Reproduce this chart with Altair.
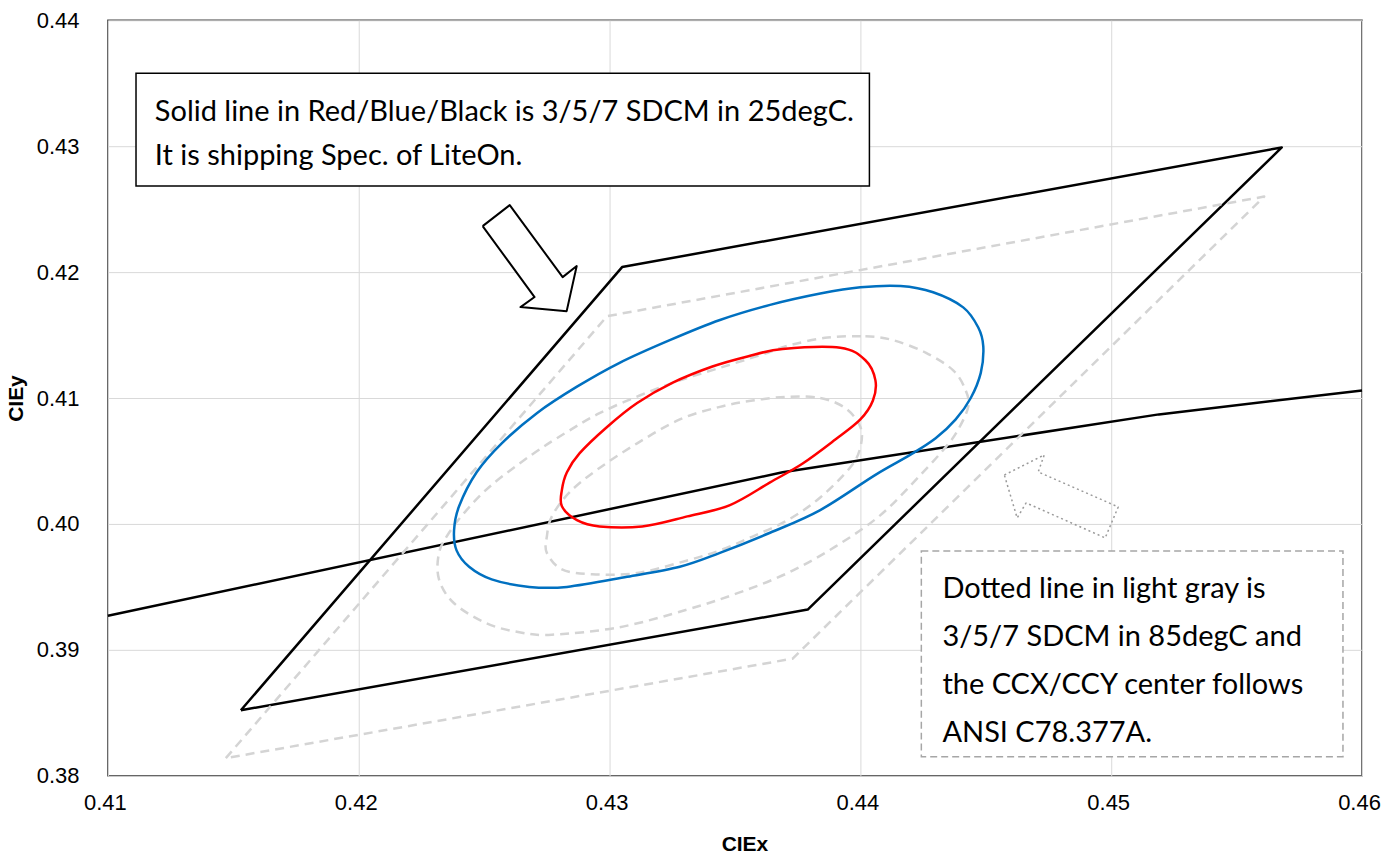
import altair as alt
import pandas as pd

# ---- 25 degC, solid lines (LiteOn shipping spec) ----
# 3-step SDCM (red)
red_x = [0.4369, 0.4392, 0.4402, 0.4406, 0.4405, 0.4400, 0.4390, 0.4377, 0.4364, 0.4348, 0.4331, 0.4313,
         0.4296, 0.4287, 0.4281, 0.4281, 0.4283, 0.4288, 0.4299, 0.4311, 0.4325, 0.4341, 0.4355]
red_y = [0.4139, 0.4140, 0.4130, 0.4114, 0.4098, 0.4083, 0.4067, 0.4048, 0.4033, 0.4015, 0.4006, 0.3998,
         0.3998, 0.4003, 0.4014, 0.4027, 0.4041, 0.4056, 0.4077, 0.4096, 0.4112, 0.4125, 0.4133]

# 5-step SDCM (blue)
blue_x = [0.4344, 0.4364, 0.4384, 0.4400, 0.4416, 0.4429, 0.4441, 0.4447, 0.4449, 0.4448, 0.4444, 0.4438,
          0.4430, 0.4420, 0.4406, 0.4384, 0.4364, 0.4344, 0.4328, 0.4307, 0.4283, 0.4268, 0.4253, 0.4244,
          0.4239, 0.4238, 0.4240, 0.4247, 0.4257, 0.4271, 0.4287, 0.4304, 0.4324]
blue_y = [0.4162, 0.4174, 0.4183, 0.4188, 0.4189, 0.4184, 0.4172, 0.4156, 0.4141, 0.4120, 0.4100, 0.4083,
          0.4068, 0.4055, 0.4039, 0.4011, 0.3993, 0.3977, 0.3966, 0.3958, 0.3950, 0.3950, 0.3956, 0.3966,
          0.3979, 0.3995, 0.4014, 0.4041, 0.4064, 0.4088, 0.4109, 0.4128, 0.4146]

# 7-step SDCM quadrangle (black)
black_quad_x = [0.4153, 0.4305, 0.4568, 0.4379, 0.4153]
black_quad_y = [0.3852, 0.4204, 0.4299, 0.3932, 0.3852]

# Blackbody locus
planck_x = [0.4100, 0.4369, 0.4519, 0.4600]
planck_y = [0.3927, 0.4041, 0.4087, 0.4106]

# ---- 85 degC, dashed light gray ----
g3_x = [0.4371, 0.4384, 0.4394, 0.4400, 0.4400, 0.4396, 0.4384, 0.4371, 0.4357, 0.4344, 0.4331, 0.4311,
        0.4293, 0.4281, 0.4275, 0.4275, 0.4277, 0.4284, 0.4295, 0.4311, 0.4328, 0.4344, 0.4357]
g3_y = [0.4101, 0.4100, 0.4092, 0.4077, 0.4061, 0.4045, 0.4021, 0.4003, 0.3990, 0.3979, 0.3971, 0.3961,
        0.3960, 0.3964, 0.3977, 0.3990, 0.4006, 0.4025, 0.4043, 0.4064, 0.4083, 0.4093, 0.4098]

g5_x = [0.4387, 0.4402, 0.4413, 0.4426, 0.4437, 0.4442, 0.4443, 0.4439, 0.4434, 0.4424, 0.4408, 0.4390,
        0.4371, 0.4351, 0.4331, 0.4304, 0.4277, 0.4264, 0.4251, 0.4238, 0.4232, 0.4232, 0.4236, 0.4243,
        0.4253, 0.4269, 0.4283, 0.4296, 0.4312, 0.4328, 0.4344, 0.4360, 0.4372]
g5_y = [0.4148, 0.4149, 0.4146, 0.4136, 0.4122, 0.4106, 0.4093, 0.4075, 0.4061, 0.4039, 0.4007, 0.3982,
        0.3961, 0.3945, 0.3932, 0.3918, 0.3912, 0.3914, 0.3921, 0.3937, 0.3956, 0.3977, 0.3993, 0.4011,
        0.4031, 0.4055, 0.4073, 0.4088, 0.4102, 0.4114, 0.4124, 0.4134, 0.4142]

gray_quad_x = [0.4147, 0.4299, 0.4561, 0.4373, 0.4147]
gray_quad_y = [0.3814, 0.4165, 0.4260, 0.3893, 0.3814]

# ---- callouts (anchored in chart coordinates) ----
arrow_down_x = [0.42494, 0.42602, 0.42813, 0.42869, 0.42829, 0.42645, 0.42701, 0.42494]
arrow_down_y = [0.42365, 0.42532, 0.41960, 0.42048, 0.41690, 0.41722, 0.41802, 0.42365]
arrow_up_x = [0.44574, 0.44733, 0.44709, 0.45028, 0.44976, 0.44661, 0.44625, 0.44574]
arrow_up_y = [0.40389, 0.40548, 0.40413, 0.40135, 0.39889, 0.40167, 0.40048, 0.40389]

note_boxes = {"x": [0.41112, 0.44243], "x2": [0.44036, 0.45924],
              "y": [0.43579, 0.39786], "y2": [0.42683, 0.38151], "kind": ["solid", "dotted"]}

note_lines = [
    "Solid line in Red/Blue/Black is 3/5/7 SDCM in 25degC.",
    "It is shipping Spec. of LiteOn.",
    "Dotted line in light gray is",
    "3/5/7 SDCM in 85degC and",
    "the CCX/CCY center follows",
    "ANSI C78.377A.",
]
note_x = [0.41187, 0.41187, 0.44327, 0.44327, 0.44327, 0.44327]
note_y = [0.43198, 0.42849, 0.39413, 0.39032, 0.38651, 0.38270]

x_ticks = [0.41, 0.42, 0.43, 0.44, 0.45, 0.46]
y_ticks = [0.38, 0.39, 0.40, 0.41, 0.42, 0.43, 0.44]


def frame(name, xs, ys):
    return pd.DataFrame({"x": xs, "y": ys, "shape": name, "i": range(len(xs))})


lines = pd.concat([
    frame("red", red_x, red_y),
    frame("blue", blue_x, blue_y),
    frame("black_quad", black_quad_x, black_quad_y),
    frame("planck", planck_x, planck_y),
    frame("g3", g3_x, g3_y),
    frame("g5", g5_x, g5_y),
    frame("gray_quad", gray_quad_x, gray_quad_y),
    frame("arrow_down", arrow_down_x, arrow_down_y),
    frame("arrow_up", arrow_up_x, arrow_up_y),
], ignore_index=True)

X = alt.X("x:Q", title="CIEx",
          scale=alt.Scale(domain=[0.41, 0.46], nice=False, zero=False),
          axis=alt.Axis(values=x_ticks, format=".2f", labelPadding=17, labelFlush=False,
                        labelAlign="center", labelOffset=-3,
                        titleX=637, titleY=69, titleBaseline="middle"))
Y = alt.Y("y:Q", title="CIEy",
          scale=alt.Scale(domain=[0.38, 0.44], nice=False, zero=False),
          axis=alt.Axis(values=y_ticks, format=".2f", labelPadding=29, labelFlush=False,
                        labelAlign="right", labelBaseline="middle",
                        titleX=-91, titleY=378, titleBaseline="middle"))

base = alt.Chart(lines)


def path(names, **style):
    return base.transform_filter(
        alt.FieldOneOfPredicate(field="shape", oneOf=names)
    ).mark_line(strokeJoin="round", **style).encode(
        x=X, y=Y, detail="shape:N", order="i:Q")


black = path(["black_quad", "planck"], color="black", strokeWidth=2.5)
gray_quad = path(["gray_quad"], color="#d4d4d4", strokeWidth=2.5, strokeDash=[9, 6])
# contours are closed, smoothed curves
gray_ell = path(["g3", "g5"], color="#d4d4d4", strokeWidth=2.5, strokeDash=[9, 6],
                interpolate="cardinal-closed")
blue = path(["blue"], color="#0070c0", strokeWidth=2.5, interpolate="cardinal-closed")
red = path(["red"], color="#ff0000", strokeWidth=2.5, interpolate="cardinal-closed")
arrow_down = path(["arrow_down"], stroke="black", fill="white", strokeWidth=2)
arrow_up = path(["arrow_up"], color="#9a9a9a", strokeWidth=1.5, strokeDash=[2, 3])

boxes_df = pd.DataFrame(note_boxes)
box_solid = alt.Chart(boxes_df).transform_filter(alt.datum.kind == "solid").mark_rect(
    fill="white", stroke="black", strokeWidth=1.5
).encode(x=X, x2="x2:Q", y=Y, y2="y2:Q")
box_dotted = alt.Chart(boxes_df).transform_filter(alt.datum.kind == "dotted").mark_rect(
    fill="white", stroke="#a6a6a6", strokeWidth=1.5, strokeDash=[7, 4]
).encode(x=X, x2="x2:Q", y=Y, y2="y2:Q")

notes = alt.Chart(pd.DataFrame({"x": note_x, "y": note_y, "text": note_lines})).mark_text(
    align="left", baseline="alphabetic", font="Lato", fontSize=29, color="black"
).encode(x=X, y=Y, text="text:N")

chart = alt.layer(
    black, gray_quad, gray_ell, blue, red, arrow_down, arrow_up, box_solid, box_dotted, notes
).properties(
    width=1255, height=756,
    padding={"left": 108, "top": 20, "right": 34, "bottom": 80},
    autosize=alt.AutoSizeParams(type="none"),
).configure_view(
    stroke="#404040", strokeWidth=1.5
).configure_axis(
    labelFont="Liberation Sans", labelFontSize=22, labelColor="black",
    titleFont="Liberation Sans", titleFontSize=21, titleFontWeight="bold", titleColor="black",
    ticks=False, domain=False, gridColor="#d9d9d9", gridWidth=1,
)

chart.save("out.html", embed_options={"renderer": "svg", "actions": False})
